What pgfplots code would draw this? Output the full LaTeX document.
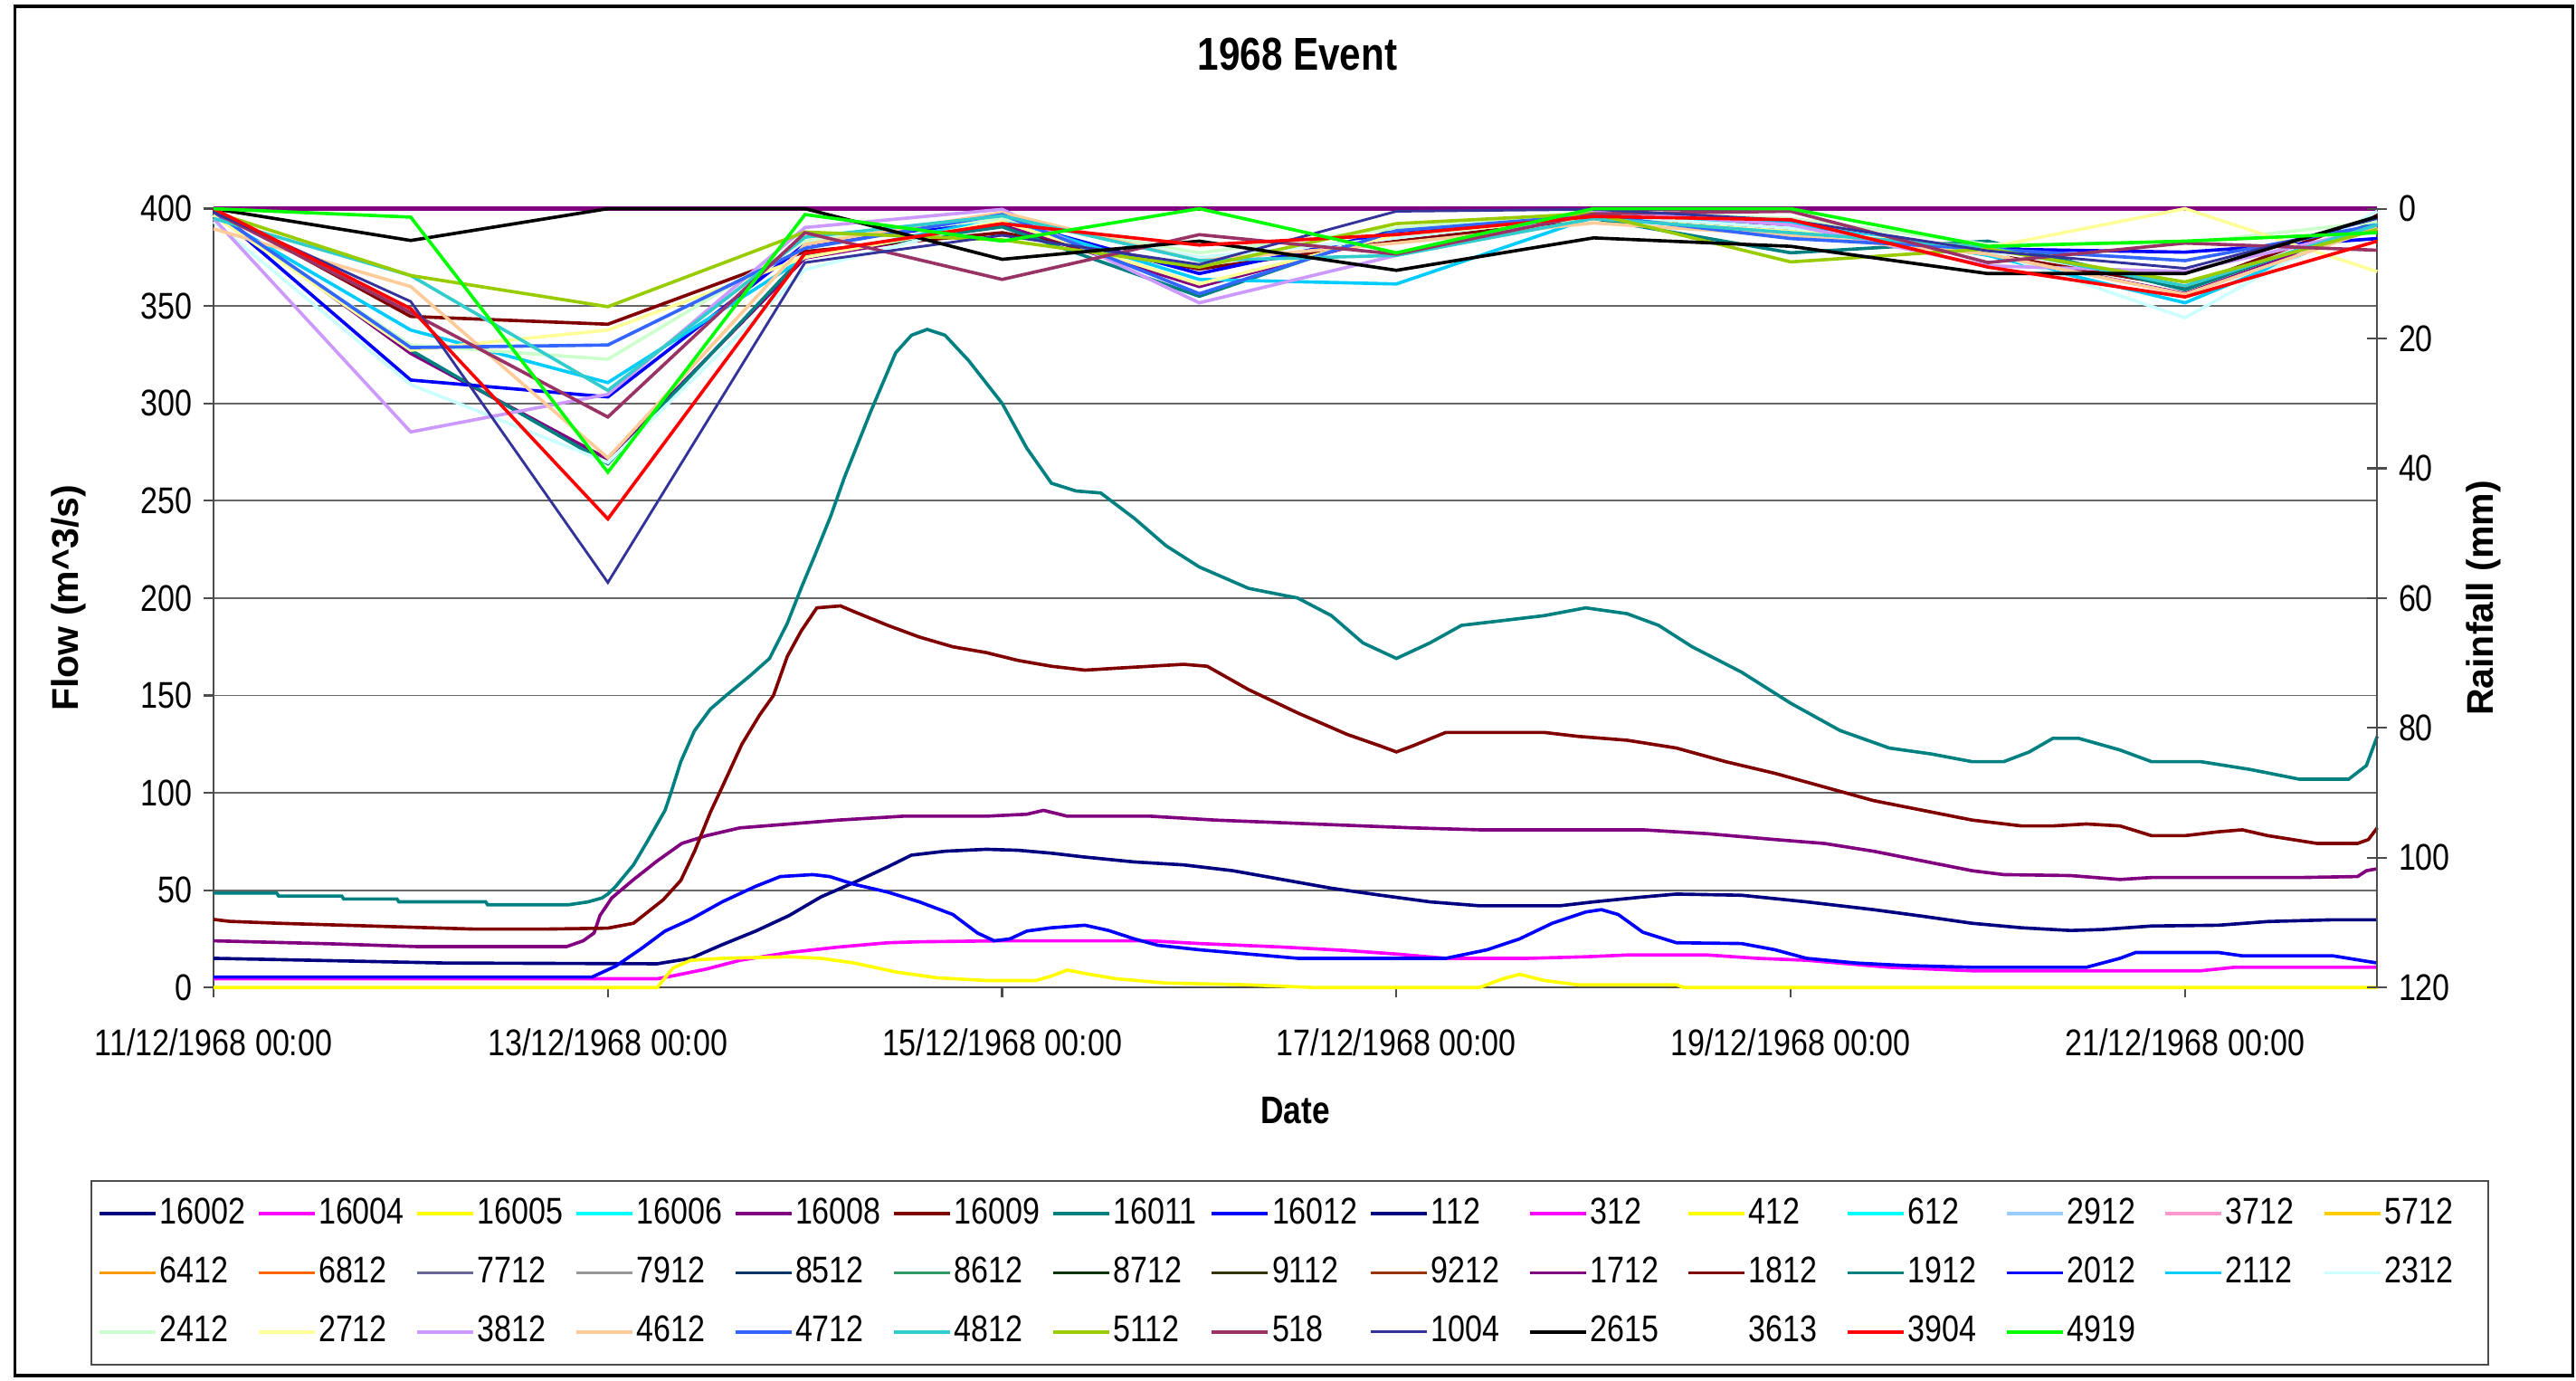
\documentclass[border=0pt]{standalone}
\usepackage{pgfplots}
\pgfplotsset{compat=1.18}
\usepackage{pgfplotstable}
\usepackage{fontspec}
\setmainfont{Liberation Sans}[FakeStretch=0.83]
\newfontfamily\vfont{Liberation Sans}

\definecolor{c16002}{HTML}{000080}
\definecolor{c16004}{HTML}{FF00FF}
\definecolor{c16005}{HTML}{FFFF00}
\definecolor{c16006}{HTML}{00FFFF}
\definecolor{c16008}{HTML}{800080}
\definecolor{c16009}{HTML}{800000}
\definecolor{c16011}{HTML}{008080}
\definecolor{c16012}{HTML}{0000FF}
\definecolor{c2912}{HTML}{99CCFF}
\definecolor{c3712}{HTML}{FF99CC}
\definecolor{c5712}{HTML}{FFCC00}
\definecolor{c6412}{HTML}{FF9900}
\definecolor{c6812}{HTML}{FF6600}
\definecolor{c7712}{HTML}{666699}
\definecolor{c7912}{HTML}{969696}
\definecolor{c8512}{HTML}{003366}
\definecolor{c8612}{HTML}{339966}
\definecolor{c8712}{HTML}{003300}
\definecolor{c9112}{HTML}{333300}
\definecolor{c9212}{HTML}{993300}
\definecolor{c2112}{HTML}{00CCFF}
\definecolor{c2312}{HTML}{CCFFFF}
\definecolor{c2412}{HTML}{CCFFCC}
\definecolor{c2712}{HTML}{FFFF99}
\definecolor{c3812}{HTML}{CC99FF}
\definecolor{c4612}{HTML}{FFCC99}
\definecolor{c4712}{HTML}{3366FF}
\definecolor{c4812}{HTML}{33CCCC}
\definecolor{c5112}{HTML}{99CC00}
\definecolor{c518}{HTML}{993366}
\definecolor{c1004}{HTML}{333399}
\definecolor{c3904}{HTML}{FF0000}
\definecolor{c4919}{HTML}{00FF00}

\pgfplotstableread{
day    r1712 r1812 r1912 r2012 r2112 r2312 r2412 r2712 r3812 r4612 r4712 r4812 r5112 r518 r1004 r2615 r3904 r4919
0      0.3   0     0.8   0.3   1     2     1     1     1.5   3.1   0.5   1.5   0.5   0.5  0.5   0     0     0
1      22.3  16.6  21.8  26.4  18.7  27.1  21    21.8  34.4  12    21.4  10.3  10.3  16   14.3  4.9   15.4  1.3
2      38.6  17.8  39.3  29    26.8  39.1  23.2  18.7  28.6  38.4  21    28    15.1  32.1 57.6  0     47.8  40.6
3      7.6   6.6   7.0   5.5   7.5   9.4   5     7.5   2.9   5.5   6.1   4.4   3.6   3.7  8.3   0     6.9   0.9
4      2.5   3.7   2.8   1.7   1.5   1.5   1.5   2     0.1   0.6   0.9   1.1   4.8   10.9 4.1   7.8   2.3   5
5      12    9.3   13.5  10    10.9  7.5   6.8   11.6  14.5  8     13.1  8     9     4    8.6   5     5.6   0
6      4     5     3.1   3.5   11.6  4.5   3     4     7.2   5.3   3.4   7.2   2.3   7    0.4   9.5   4     6.8
7      1.2   1.5   1.5   1     1.3   1     0.5   1.5   0.3   2.2   1     1.5   0.75  0.8  0.1   4.5   1.2   0
8      3     2.5   6.8   3     2.2   3     1.5   3.5   2.5   4.1   4.6   3.7   8.2   0.4  1.8   5.8   1.7   0
9      7     7     5     6.2   7.2   6.5   5.5   6     8.8   7     6.2   6     6.2   8.3  6.5   10    9     5.8
10     13.1  12    12.5  6.7   14.5  16.8  5.3   0     9.7   13.2  8     11.9  11.3  5.3  9.2   10    13.6  5
10.975 2.5   1     2     4.6   2.2   0.4   2     9.7   3     3     2.5   2.5   3.2   6.4  1.5   1.2   5     3.7
}\rain

\newcommand{\lgd}[1]{\makebox[28.8pt][l]{#1}}

\pgfplotsset{
  base/.style={
    scale only axis, width=658.5pt, height=237pt,
    at={(65pt,119.5pt)}, anchor=south west,
    xmin=0, xmax=10.975, clip=false,
    /pgf/number format/assume math mode=true,
  },
}

\begin{document}
\begin{tikzpicture}[font=\fontsize{11.3}{13}\selectfont]
\useasboundingbox (0,0) rectangle (784pt,420pt);
\draw[black, line width=1pt] (4.5pt,1.5pt) rectangle (783pt,418pt);

\begin{axis}[base,
  ymin=0, ymax=400,
  axis x line*=bottom, axis y line*=left,
  axis line style={-, black!70, line width=0.6pt},
  ytick={0,50,...,400},
  ymajorgrids, grid style={black!60, line width=0.5pt},
  xtick={0,2,4,6,8,10},
  xticklabels={11/12/1968 00:00,13/12/1968 00:00,15/12/1968 00:00,17/12/1968 00:00,19/12/1968 00:00,21/12/1968 00:00},
  xticklabel style={yshift=-6pt},
  tick align=outside, major tick length=3pt,
  tick style={black!70, line width=0.6pt},
  xlabel={\fontsize{11.7}{13}\selectfont\bfseries Date},
  ylabel={\vfont\bfseries Flow (m\textasciicircum 3/s)},
  every axis x label/.style={at={(axis description cs:0.5,-0.158)}, anchor=center},
  every axis y label/.style={at={(axis description cs:-0.067,0.5)}, anchor=center, rotate=90},
  title={\bfseries 1968 Event},
  title style={at={(axis description cs:0.501,1.173)}, anchor=center, font=\fontsize{14}{16}\selectfont},
]
\addplot[c16002, line width=1pt] coordinates {(0,15)(0.5,14)(1.17,12.6)(2.25,12.2)(2.42,15)(2.58,22)(2.75,29)(2.92,37)(3.08,46.5)(3.25,54)(3.42,62)(3.54,68)(3.71,70)(3.92,71)(4.08,70.5)(4.25,69)(4.42,67)(4.67,64.5)(4.92,63)(5.17,60)(5.42,55.5)(5.67,51)(5.92,47.4)(6.17,44)(6.42,42)(6.83,42)(7.0,44)(7.25,46.5)(7.42,48)(7.75,47.4)(8.08,44)(8.42,40)(8.67,36.6)(8.92,33)(9.17,30.7)(9.42,29.3)(9.58,29.8)(9.83,31.6)(10.17,32)(10.42,33.9)(10.75,34.8)(10.975,34.8)};
\addplot[c16004, line width=1pt] coordinates {(0,4.5)(2.25,4.5)(2.33,6)(2.5,9.5)(2.67,14)(2.92,18)(3.17,20.8)(3.42,23)(3.58,23.5)(4,24)(4.75,24)(5,22.6)(5.42,20.8)(5.75,19)(6,17.2)(6.25,15)(6.67,15)(6.96,15.8)(7.17,16.7)(7.58,16.7)(7.83,15)(8.08,14)(8.5,10.4)(8.92,8.6)(10.08,8.6)(10.25,10.4)(10.975,10.4)};
\addplot[c16005, line width=1pt] coordinates {(0,0)(2.25,0)(2.33,10)(2.42,14)(2.58,15)(2.92,15.8)(3.08,15)(3.25,12.6)(3.46,8)(3.67,5)(3.92,3.6)(4.17,3.6)(4.25,5.9)(4.33,9)(4.42,7.2)(4.58,4.5)(4.83,2.3)(5.25,1.4)(5.58,0)(6.42,0)(6.54,4.5)(6.625,6.8)(6.75,3.6)(6.92,1.4)(7.42,1.4)(7.46,0)(10.975,0)};
\addplot[c16008, line width=1pt] coordinates {(0,24)(0.58,22.5)(1.04,21)(1.79,21)(1.875,24)(1.93,28)(1.96,37)(2.02,46)(2.125,55)(2.25,65)(2.375,74)(2.5,78)(2.67,82)(2.92,84)(3.17,86)(3.5,88)(3.92,88)(4.125,89)(4.21,91)(4.33,88)(4.75,88)(5.08,86)(5.58,84)(5.83,83)(6.08,82)(6.42,81)(7.25,81)(7.58,79)(7.92,76)(8.17,74)(8.42,70)(8.67,65)(8.92,60)(9.08,58)(9.42,57.5)(9.67,55.5)(9.83,56.5)(10.58,56.5)(10.875,57)(10.92,60)(10.975,61)};
\addplot[c16009, line width=1pt] coordinates {(0,35)(0.08,34)(0.33,33)(0.83,31.5)(1.33,30)(1.67,30)(2.0,30.5)(2.13,33)(2.28,45)(2.37,55)(2.44,70)(2.52,90)(2.58,103)(2.68,125)(2.77,140)(2.84,150)(2.91,170)(2.98,183)(3.06,195)(3.18,196)(3.25,193)(3.42,186)(3.58,180)(3.75,175)(3.92,172)(4.08,168)(4.25,165)(4.42,163)(4.58,164)(4.75,165)(4.92,166)(5.04,165)(5.25,153)(5.5,141)(5.75,130)(5.92,124)(6,121)(6.08,124)(6.25,131)(6.75,131)(6.92,129)(7.17,127)(7.42,123)(7.67,116)(7.92,110)(8.17,103)(8.42,96)(8.67,91)(8.92,86)(9.17,83)(9.33,83)(9.5,84)(9.67,83)(9.83,78)(10,78)(10.17,80)(10.29,81)(10.42,78)(10.67,74)(10.875,74)(10.93,76)(10.975,82)};
\addplot[c16011, line width=1pt] coordinates {(0,48.5)(0.32,48.5)(0.33,47)(0.65,47)(0.66,45.5)(0.93,45.5)(0.94,44)(1.38,44)(1.39,42.5)(1.8,42.5)(1.9,44)(1.97,46)(2.0,48)(2.04,52)(2.13,63)(2.2,75)(2.29,91)(2.32,100)(2.37,116)(2.44,132)(2.52,143)(2.6,150)(2.72,160)(2.82,169)(2.86,177)(2.91,187)(2.98,205)(3.05,222)(3.13,242)(3.2,262)(3.33,295)(3.46,326)(3.54,335)(3.62,338)(3.71,335)(3.83,322)(4.0,300)(4.125,277)(4.25,259)(4.375,255)(4.5,254)(4.67,241)(4.83,227)(5.0,216)(5.25,205)(5.5,200)(5.67,191)(5.83,177)(6.0,169)(6.17,177)(6.33,186)(6.5,188)(6.75,191)(6.96,195)(7.17,192)(7.33,186)(7.5,175)(7.75,162)(8.0,146)(8.25,132)(8.5,123)(8.71,120)(8.92,116)(9.08,116)(9.21,121)(9.33,128)(9.46,128)(9.67,122)(9.83,116)(10.08,116)(10.33,112)(10.58,107)(10.83,107)(10.92,114)(10.975,129)};
\addplot[c16012, line width=1pt] coordinates {(0,5.4)(1.92,5.4)(2.04,11)(2.17,20)(2.29,29)(2.42,35)(2.58,44)(2.75,52)(2.875,57)(3.04,58)(3.125,57)(3.25,53)(3.42,49)(3.58,44)(3.75,37.5)(3.875,28)(3.96,24)(4.04,25)(4.125,29)(4.25,30.7)(4.42,32)(4.54,29.3)(4.67,25)(4.79,21.7)(5,19.4)(5.25,17.2)(5.5,15)(6.25,15)(6.46,19.4)(6.625,25)(6.79,33)(6.96,38.8)(7.04,40)(7.125,37.5)(7.25,28.4)(7.42,23)(7.75,22.6)(7.92,19.4)(8.08,15)(8.33,12.6)(8.58,11.3)(8.92,10.4)(9.5,10.4)(9.67,15)(9.75,18)(10.17,18)(10.29,16.3)(10.75,16.3)(10.92,13.5)(10.975,12.6)};
\draw[c16008, line width=1.2pt] (axis description cs:0,1) -- (axis description cs:1,1);
\end{axis}

\begin{axis}[base,
  ymin=0, ymax=120, y dir=reverse,
  axis x line=none, axis y line*=right,
  axis line style={-, black!70, line width=0.6pt},
  ytick={0,20,...,120},
  ytick align=center, major tick length=6pt,
  tick style={black!70, line width=0.6pt},
  ylabel={\vfont\bfseries Rainfall (mm)},
  every axis y label/.style={at={(axis description cs:1.049,0.5)}, anchor=center, rotate=90},
  legend columns=15,
  legend cell align=left,
  legend style={at={(axis description cs:-0.057,-0.247)}, anchor=north west,
    draw=black!70, line width=0.6pt, inner xsep=2pt, inner ysep=4.25pt,
    nodes={inner sep=0.75pt, text height=8pt, text depth=2pt},
    row sep=6.5pt, font=\fontsize{11.3}{13}\selectfont},
]
\addlegendimage{c16002, line width=1pt}\addlegendentry{\lgd{16002}}
\addlegendimage{c16004, line width=1pt}\addlegendentry{\lgd{16004}}
\addlegendimage{c16005, line width=1pt}\addlegendentry{\lgd{16005}}
\addlegendimage{c16006, line width=1pt}\addlegendentry{\lgd{16006}}
\addlegendimage{c16008, line width=1pt}\addlegendentry{\lgd{16008}}
\addlegendimage{c16009, line width=1pt}\addlegendentry{\lgd{16009}}
\addlegendimage{c16011, line width=1pt}\addlegendentry{\lgd{16011}}
\addlegendimage{c16012, line width=1pt}\addlegendentry{\lgd{16012}}
\addlegendimage{c16002, line width=1pt}\addlegendentry{\lgd{112}}
\addlegendimage{c16004, line width=1pt}\addlegendentry{\lgd{312}}
\addlegendimage{c16005, line width=1pt}\addlegendentry{\lgd{412}}
\addlegendimage{c16006, line width=1pt}\addlegendentry{\lgd{612}}
\addlegendimage{c2912, line width=1pt}\addlegendentry{\lgd{2912}}
\addlegendimage{c3712, line width=1pt}\addlegendentry{\lgd{3712}}
\addlegendimage{c5712, line width=1pt}\addlegendentry{\lgd{5712}}
\addlegendimage{c6412, line width=1pt}\addlegendentry{\lgd{6412}}
\addlegendimage{c6812, line width=1pt}\addlegendentry{\lgd{6812}}
\addlegendimage{c7712, line width=1pt}\addlegendentry{\lgd{7712}}
\addlegendimage{c7912, line width=1pt}\addlegendentry{\lgd{7912}}
\addlegendimage{c8512, line width=1pt}\addlegendentry{\lgd{8512}}
\addlegendimage{c8612, line width=1pt}\addlegendentry{\lgd{8612}}
\addlegendimage{c8712, line width=1pt}\addlegendentry{\lgd{8712}}
\addlegendimage{c9112, line width=1pt}\addlegendentry{\lgd{9112}}
\addlegendimage{c9212, line width=1pt}\addlegendentry{\lgd{9212}}
\addplot[c16008, line width=1pt] table[x=day, y=r1712] {\rain}; \addlegendentry{\lgd{1712}}
\addplot[c16009, line width=1pt] table[x=day, y=r1812] {\rain}; \addlegendentry{\lgd{1812}}
\addplot[c16011, line width=1pt] table[x=day, y=r1912] {\rain}; \addlegendentry{\lgd{1912}}
\addplot[c16012, line width=1pt] table[x=day, y=r2012] {\rain}; \addlegendentry{\lgd{2012}}
\addplot[c2112, line width=1pt] table[x=day, y=r2112] {\rain}; \addlegendentry{\lgd{2112}}
\addplot[c2312, line width=1pt] table[x=day, y=r2312] {\rain}; \addlegendentry{\lgd{2312}}
\addplot[c2412, line width=1pt] table[x=day, y=r2412] {\rain}; \addlegendentry{\lgd{2412}}
\addplot[c2712, line width=1pt] table[x=day, y=r2712] {\rain}; \addlegendentry{\lgd{2712}}
\addplot[c3812, line width=1pt] table[x=day, y=r3812] {\rain}; \addlegendentry{\lgd{3812}}
\addplot[c4612, line width=1pt] table[x=day, y=r4612] {\rain}; \addlegendentry{\lgd{4612}}
\addplot[c4712, line width=1pt] table[x=day, y=r4712] {\rain}; \addlegendentry{\lgd{4712}}
\addplot[c4812, line width=1pt] table[x=day, y=r4812] {\rain}; \addlegendentry{\lgd{4812}}
\addplot[c5112, line width=1pt] table[x=day, y=r5112] {\rain}; \addlegendentry{\lgd{5112}}
\addplot[c518, line width=1pt] table[x=day, y=r518] {\rain}; \addlegendentry{\lgd{518}}
\addplot[c1004, line width=0.8pt] table[x=day, y=r1004] {\rain}; \addlegendentry{\lgd{1004}}
\addplot[black, line width=1pt] table[x=day, y=r2615] {\rain}; \addlegendentry{\lgd{2615}}
\addlegendimage{white, line width=1pt}\addlegendentry{\lgd{3613}}
\addplot[c3904, line width=1pt] table[x=day, y=r3904] {\rain}; \addlegendentry{\lgd{3904}}
\addplot[c4919, line width=1pt] table[x=day, y=r4919] {\rain}; \addlegendentry{\lgd{4919}}
\end{axis}
\end{tikzpicture}
\end{document}
